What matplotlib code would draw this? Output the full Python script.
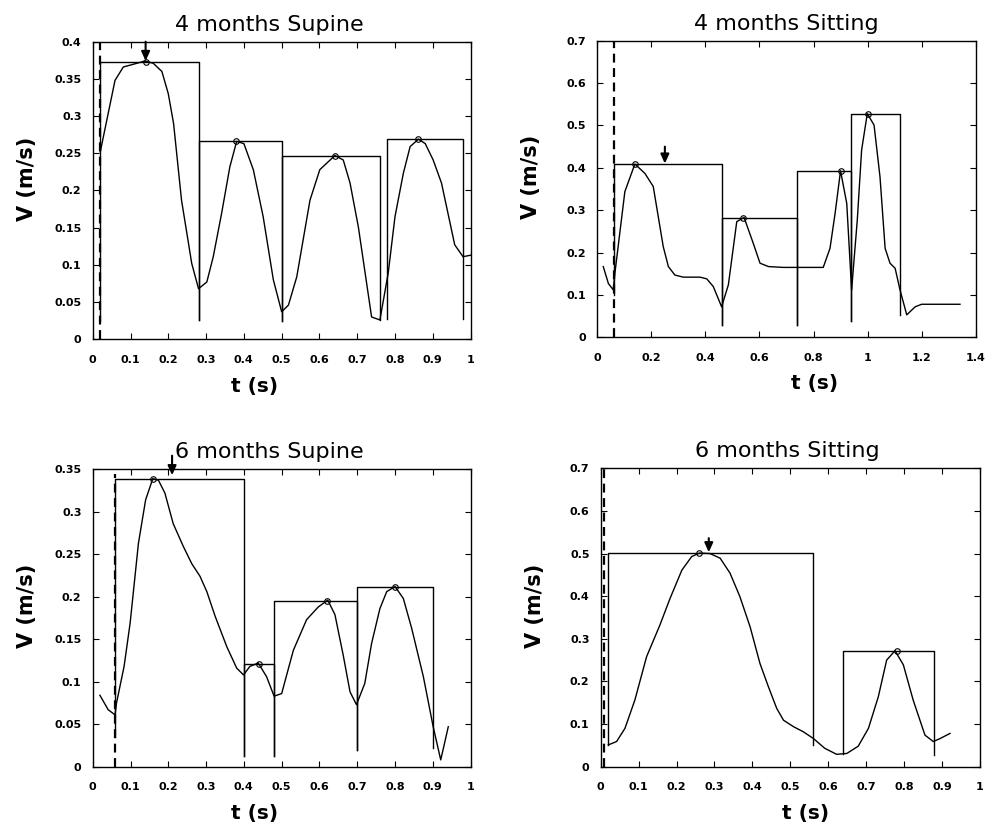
import numpy as np
import matplotlib
matplotlib.use("Agg")
import matplotlib.pyplot as plt

plt.rcParams['font.family'] = ['DejaVu Sans']

# ---- 4 months Supine ----
t_4su = [0.02, 0.059, 0.081, 0.103, 0.138, 0.16, 0.183, 0.2, 0.214, 0.235, 0.262, 0.28,
         0.302, 0.319, 0.341, 0.363, 0.381, 0.4, 0.425, 0.451, 0.478, 0.5, 0.518, 0.54,
         0.575, 0.601, 0.641, 0.663, 0.681, 0.703, 0.738, 0.76, 0.782, 0.8, 0.822, 0.84,
         0.862, 0.88, 0.901, 0.923, 0.958, 0.98, 1.0]
v_4su = [0.252, 0.348, 0.366, 0.369, 0.374, 0.371, 0.36, 0.33, 0.29, 0.187, 0.102, 0.068,
         0.077, 0.111, 0.169, 0.232, 0.266, 0.263, 0.228, 0.165, 0.08, 0.037, 0.046, 0.084,
         0.187, 0.228, 0.247, 0.241, 0.21, 0.151, 0.03, 0.026, 0.089, 0.165, 0.223, 0.259,
         0.269, 0.263, 0.241, 0.21, 0.127, 0.111, 0.113]
edges_4su = [(0.02, 0.28), (0.28, 0.5), (0.5, 0.76), (0.78, 0.98)]
tops_4su = [0.373, 0.267, 0.246, 0.269]
bots_4su = [(0.025, 0.026), (0.026, 0.025), (0.025, 0.026), (0.027, 0.027)]
peaks_t_4su = [0.14, 0.38, 0.64, 0.86]
onset_4su = 0.02
arrow_4su = (0.14, 0.4, 0.374)

# ---- 4 months Sitting ----
t_4si = [0.022, 0.041, 0.059, 0.065, 0.102, 0.139, 0.176, 0.207, 0.244, 0.263, 0.287,
         0.318, 0.38, 0.405, 0.429, 0.46, 0.485, 0.516, 0.543, 0.577, 0.602, 0.633, 0.688,
         0.836, 0.861, 0.88, 0.9, 0.923, 0.941, 0.962, 0.978, 0.999, 1.024, 1.046, 1.065,
         1.083, 1.102, 1.12, 1.145, 1.176, 1.2, 1.342]
v_4si = [0.167, 0.127, 0.112, 0.151, 0.344, 0.409, 0.387, 0.356, 0.214, 0.167, 0.147,
         0.142, 0.142, 0.138, 0.12, 0.072, 0.124, 0.273, 0.283, 0.222, 0.175, 0.167, 0.165,
         0.165, 0.21, 0.293, 0.393, 0.316, 0.112, 0.277, 0.442, 0.528, 0.501, 0.379, 0.21,
         0.175, 0.163, 0.112, 0.053, 0.072, 0.078, 0.078]
edges_4si = [(0.06, 0.46), (0.46, 0.74), (0.74, 0.94), (0.94, 1.12)]
tops_4si = [0.409, 0.282, 0.392, 0.527]
bots_4si = [(0.1, 0.029), (0.029, 0.029), (0.029, 0.039), (0.039, 0.053)]
peaks_t_4si = [0.14, 0.54, 0.9, 1.0]
onset_4si = 0.06
arrow_4si = (0.25, 0.45, 0.41)

# ---- 6 months Supine ----
t_6su = [0.019, 0.041, 0.059, 0.063, 0.083, 0.099, 0.121, 0.14, 0.159, 0.174, 0.191,
         0.213, 0.24, 0.262, 0.284, 0.302, 0.324, 0.355, 0.381, 0.399, 0.416, 0.438, 0.46,
         0.48, 0.5, 0.531, 0.566, 0.597, 0.622, 0.641, 0.663, 0.681, 0.698, 0.72, 0.738,
         0.76, 0.778, 0.8, 0.822, 0.844, 0.875, 0.901, 0.921, 0.941]
v_6su = [0.084, 0.067, 0.061, 0.075, 0.118, 0.169, 0.263, 0.314, 0.339, 0.337, 0.322,
         0.286, 0.259, 0.239, 0.224, 0.206, 0.177, 0.141, 0.116, 0.108, 0.118, 0.122, 0.106,
         0.083, 0.086, 0.137, 0.173, 0.188, 0.196, 0.179, 0.131, 0.088, 0.073, 0.098, 0.145,
         0.186, 0.206, 0.212, 0.198, 0.163, 0.106, 0.047, 0.008, 0.047]
edges_6su = [(0.06, 0.4), (0.4, 0.48), (0.48, 0.7), (0.7, 0.9)]
tops_6su = [0.338, 0.121, 0.195, 0.211]
bots_6su = [(0.035, 0.012), (0.012, 0.012), (0.012, 0.02), (0.02, 0.022)]
peaks_t_6su = [0.16, 0.44, 0.62, 0.8]
onset_6su = 0.06
arrow_6su = (0.21, 0.366, 0.343)

# ---- 6 months Sitting ----
t_6si = [0.02, 0.042, 0.064, 0.09, 0.121, 0.156, 0.183, 0.214, 0.24, 0.26, 0.288, 0.315,
         0.341, 0.367, 0.394, 0.42, 0.442, 0.464, 0.482, 0.508, 0.534, 0.561, 0.591, 0.622,
         0.649, 0.679, 0.706, 0.732, 0.754, 0.776, 0.798, 0.824, 0.855, 0.877, 0.895, 0.921]
v_6si = [0.051, 0.059, 0.09, 0.156, 0.258, 0.332, 0.395, 0.461, 0.493, 0.501, 0.5, 0.489,
         0.454, 0.399, 0.328, 0.242, 0.188, 0.137, 0.109, 0.094, 0.082, 0.066, 0.043, 0.029,
         0.031, 0.048, 0.09, 0.164, 0.25, 0.272, 0.239, 0.156, 0.074, 0.059, 0.066, 0.078]
edges_6si = [(0.02, 0.56), (0.64, 0.88)]
tops_6si = [0.501, 0.272]
bots_6si = [(0.051, 0.051), (0.03, 0.027)]
peaks_t_6si = [0.26, 0.78]
onset_6si = 0.01
arrow_6si = (0.285, 0.536, 0.503)

# title x, xlabel x (axes fraction) and axes rect per panel
panels = [
    ("4 months Supine", t_4su, v_4su, edges_4su, tops_4su, bots_4su, peaks_t_4su, onset_4su,
     arrow_4su, (0, 1), np.arange(0, 1.01, 0.1), (0, 0.4), np.arange(0, 0.401, 0.05), None,
     [0.093, 0.5912, 0.379, 0.3586], 0.468, 0.429),
    ("4 months Sitting", t_4si, v_4si, edges_4si, tops_4si, bots_4si, peaks_t_4si, onset_4si,
     arrow_4si, (0, 1.4), np.arange(0, 1.41, 0.2), (0, 0.7), np.arange(0, 0.701, 0.1), None,
     [0.5991, 0.5936, 0.3795, 0.3573], 0.5, 0.575),
    ("6 months Supine", t_6su, v_6su, edges_6su, tops_6su, bots_6su, peaks_t_6su, onset_6su,
     arrow_6su, (0, 1), np.arange(0, 1.01, 0.1), (0, 0.35), np.arange(0, 0.351, 0.05), 0.345,
     [0.093, 0.0763, 0.379, 0.3583], 0.468, 0.429),
    ("6 months Sitting", t_6si, v_6si, edges_6si, tops_6si, bots_6si, peaks_t_6si, onset_6si,
     arrow_6si, (0, 1), np.arange(0, 1.01, 0.1), (0, 0.7), np.arange(0, 0.701, 0.1), None,
     [0.6025, 0.0763, 0.3804, 0.3595], 0.493, 0.539),
]

fig = plt.figure(figsize=(9.97, 8.30), dpi=100)

for (title, t, v, edges, tops, bots, pk_t, onset, arrow, xlim, xt, ylim, yt, dash_top,
     pos, title_x, xlab_x) in panels:
    ax = fig.add_axes(pos)
    ax.plot(t, v, color='black', lw=1.0)

    # boxes between segment boundaries
    for (x0, x1), top, (b0, b1) in zip(edges, tops, bots):
        ax.plot([x0, x0, x1, x1], [b0, top, top, b1], color='black', lw=1.0)

    # peak markers
    ax.plot(pk_t, tops, 'o', ms=4, mfc='none', mec='black', mew=0.8)

    # onset line
    ytop = dash_top if dash_top is not None else ylim[1]
    ax.plot([onset, onset], [0, ytop], color='black', lw=1.6, ls=(0, (4, 2.5)))

    # arrow
    ax.annotate('', xy=(arrow[0], arrow[2]), xytext=(arrow[0], arrow[1]),
                arrowprops=dict(arrowstyle='-|>,head_length=0.55,head_width=0.25',
                                color='black', lw=1.5, shrinkA=0, shrinkB=0),
                annotation_clip=False)

    ax.set_xlim(xlim)
    ax.set_ylim(ylim)
    ax.set_xticks(xt)
    ax.set_yticks(yt)
    ax.set_xticklabels(['%g' % round(x, 2) for x in xt], fontweight='bold', fontsize=8)
    ax.set_yticklabels(['%g' % round(y, 2) for y in yt], fontweight='bold', fontsize=8)
    ax.tick_params(direction='in', top=True, right=True, length=4, width=0.8)
    ax.tick_params(axis='x', pad=11)
    ax.tick_params(axis='y', pad=8)
    for s in ax.spines.values():
        s.set_linewidth(1.0)
    ax.set_title(title, fontsize=16, pad=8, x=title_x)
    ax.set_xlabel('t (s)', fontsize=14.5, fontweight='bold')
    ax.xaxis.set_label_coords(xlab_x, -0.125)
    ax.set_ylabel('V (m/s)', fontsize=15, fontweight='bold')
    ax.yaxis.set_label_coords(-0.148, 0.54)

fig.savefig('out.png', dpi=100)
